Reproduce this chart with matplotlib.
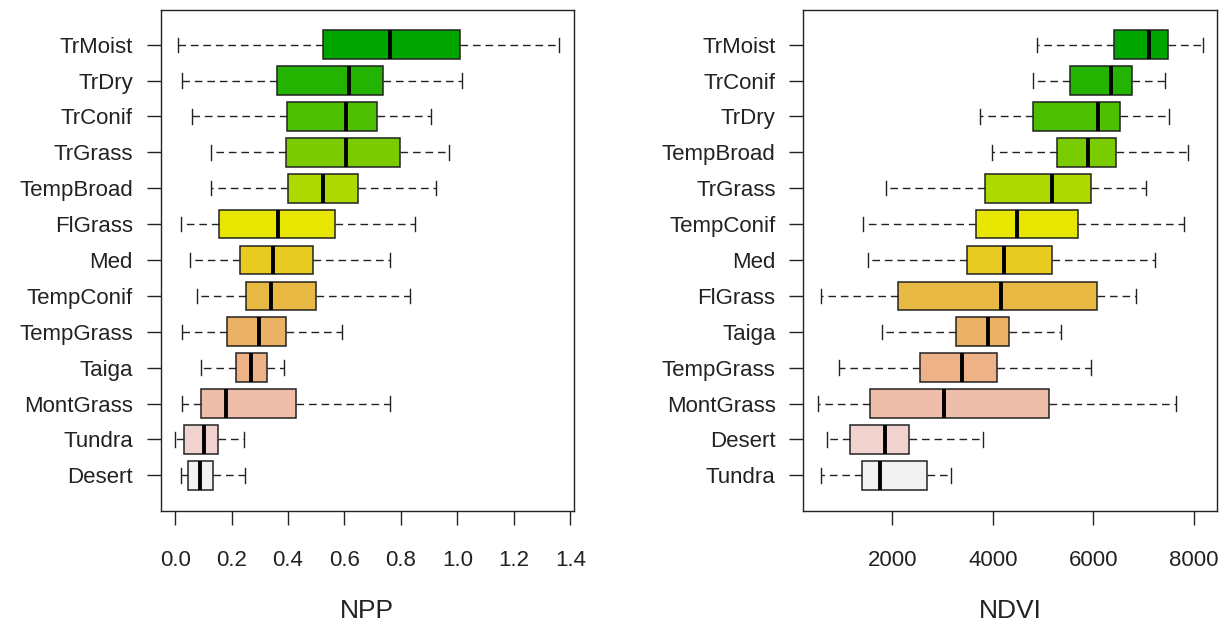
import colorsys
import numpy as np
import matplotlib
matplotlib.use("Agg")
import matplotlib.pyplot as plt

plt.rcParams['font.family'] = ['Liberation Sans', 'DejaVu Sans']

# NPP panel, listed top to bottom
npp_names = ['TrMoist', 'TrDry', 'TrConif', 'TrGrass', 'TempBroad', 'FlGrass', 'Med',
             'TempConif', 'TempGrass', 'Taiga', 'MontGrass', 'Tundra', 'Desert']
npp_lo = [0.010, 0.025, 0.061, 0.128, 0.128, 0.020, 0.051, 0.077, 0.025, 0.092, 0.025, 0.000, 0.020]
npp_q1 = [0.523, 0.360, 0.396, 0.391, 0.401, 0.155, 0.231, 0.251, 0.185, 0.216, 0.092, 0.031, 0.046]
npp_med = [0.762, 0.617, 0.606, 0.606, 0.524, 0.365, 0.345, 0.339, 0.298, 0.268, 0.179, 0.103, 0.087]
npp_q3 = [1.010, 0.736, 0.714, 0.797, 0.648, 0.566, 0.489, 0.500, 0.392, 0.325, 0.427, 0.151, 0.135]
npp_hi = [1.361, 1.018, 0.906, 0.972, 0.925, 0.849, 0.762, 0.833, 0.592, 0.385, 0.762, 0.243, 0.248]

# NDVI panel, listed top to bottom
ndvi_names = ['TrMoist', 'TrConif', 'TrDry', 'TempBroad', 'TrGrass', 'TempConif', 'Med',
              'FlGrass', 'Taiga', 'TempGrass', 'MontGrass', 'Desert', 'Tundra']
ndvi_lo = [4872, 4792, 3744, 3983, 1875, 1411, 1523, 576, 1795, 946, 516, 695, 576]
ndvi_q1 = [6409, 5540, 4792, 5282, 3844, 3665, 3492, 2107, 3261, 2545, 1562, 1153, 1391]
ndvi_med = [7106, 6350, 6097, 5886, 5170, 4474, 4222, 4156, 3903, 3380, 3034, 1849, 1761]
ndvi_q3 = [7477, 6761, 6529, 6443, 5952, 5687, 5170, 6065, 4327, 4076, 5117, 2338, 2684]
ndvi_hi = [8173, 7424, 7510, 7887, 7046, 7802, 7225, 6847, 5349, 5952, 7648, 3810, 3161]


def terrain_colors(n):
    # same recipe as R's terrain.colors()
    k = n // 2
    h = list(np.linspace(4/12, 2/12, k)) + list(np.linspace(2/12, 0, n - k + 1)[1:])
    s = list(np.linspace(1, 1, k)) + list(np.linspace(1, 0, n - k + 1)[1:])
    v = list(np.linspace(0.65, 0.9, k)) + list(np.linspace(0.9, 0.95, n - k + 1)[1:])
    return [colorsys.hsv_to_rgb(a, b, c) for a, b, c in zip(h, s, v)]


def panel(ax, names, lo, q1, med, q3, hi, xlim, xticks, xticklabels, xlabel):
    n = len(names)
    pos = np.arange(n, 0, -1)
    stats = [dict(whislo=a, q1=b, med=c, q3=d, whishi=e, fliers=[])
             for a, b, c, d, e in zip(lo, q1, med, q3, hi)]
    bp = ax.bxp(stats, positions=pos, widths=0.8, capwidths=0.4,
                orientation='horizontal', patch_artist=True, showfliers=False,
                boxprops=dict(edgecolor='#222222', linewidth=1.1),
                medianprops=dict(color='black', linewidth=2.8, solid_capstyle='butt'),
                whiskerprops=dict(color='#222222', linewidth=1.0, linestyle=(0, (5.5, 3.5))),
                capprops=dict(color='#222222', linewidth=1.0))
    for patch, c in zip(bp['boxes'], terrain_colors(n)):
        patch.set_facecolor(c)
    ax.set_ylim(0.02, n + 0.98)
    ax.set_xlim(*xlim)
    ax.set_yticks(pos)
    ax.set_yticklabels(names, fontsize=16)
    ax.set_xticks(xticks)
    ax.set_xticklabels(xticklabels, fontsize=16)
    ax.tick_params(axis='y', length=10, width=1.0, pad=10, colors='#222222', labelcolor='#222222')
    ax.tick_params(axis='x', length=10, width=1.0, pad=18.5, colors='#222222', labelcolor='#222222')
    ax.set_xlabel(xlabel, fontsize=19, labelpad=20, color='#222222')
    for sp in ax.spines.values():
        sp.set_color('#222222')
        sp.set_linewidth(1.0)


fig = plt.figure(figsize=(12.28, 6.26), dpi=100)
ax1 = fig.add_axes([0.1309, 0.1845, 0.3365, 0.8003])
ax2 = fig.add_axes([0.6542, 0.1845, 0.3371, 0.8003])

panel(ax1, npp_names, npp_lo, npp_q1, npp_med, npp_q3, npp_hi,
      (-0.051, 1.413), np.arange(0, 1.41, 0.2),
      ['0.0', '0.2', '0.4', '0.6', '0.8', '1.0', '1.2', '1.4'], 'NPP')
panel(ax2, ndvi_names, ndvi_lo, ndvi_q1, ndvi_med, ndvi_q3, ndvi_hi,
      (230, 8464), [2000, 4000, 6000, 8000],
      ['2000', '4000', '6000', '8000'], 'NDVI')

fig.savefig('out.png', dpi=100)
